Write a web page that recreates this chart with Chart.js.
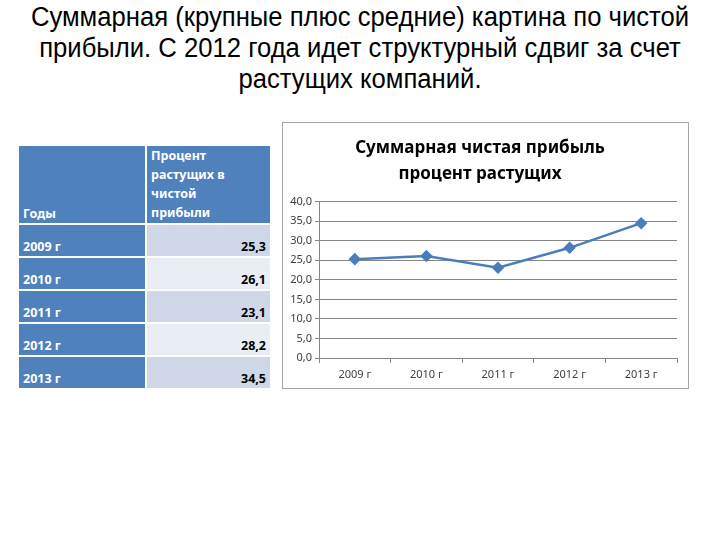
<!DOCTYPE html>
<html>
<head>
<meta charset="utf-8">
<script src="https://cdn.jsdelivr.net/npm/chart.js@4"></script>
<style>
  body { margin: 0; width: 720px; height: 540px; background: #fff; position: relative; overflow: hidden; }
  h1 {
    position: absolute; left: 0; top: 2px; width: 720px; margin: 0;
    font-family: "Liberation Sans", sans-serif; transform: scaleX(0.95); transform-origin: 360px 0;
    font-weight: normal; font-size: 27px; line-height: 31px; text-align: center; color: #000;
  }
  table {
    position: absolute; left: 17px; top: 144px; border-collapse: collapse;
    font-family: "Noto Sans", sans-serif; font-weight: bold; font-size: 12.5px;
  }
  td { border: 2px solid #fff; vertical-align: bottom; padding: 0 4px 1px 4px; }
  td.h { background: #4f81bd; color: #fff; }
  td.v { text-align: right; color: #000; }
  tr.odd td.v { background: #d0d8e8; }
  tr.even td.v { background: #e9edf4; }
  #box { position: absolute; left: 282px; top: 122px; width: 405px; height: 265px; border: 1px solid #a6a6a6; }
</style>
</head>
<body>
<h1>Суммарная (крупные плюс средние) картина по чистой<br>прибыли. С 2012 года идет структурный сдвиг за счет<br>растущих компаний.</h1>
<table id="tbl"></table>
<div id="box"><canvas id="chart" width="405" height="265"></canvas></div>
<script>
const years = ['2009 г', '2010 г', '2011 г', '2012 г', '2013 г'];
const growthShare = [25.3, 26.1, 23.1, 28.2, 34.5];
const headYear = 'Годы';
const headValue = ['Процент', 'растущих в', 'чистой', 'прибыли'];
const chartTitle = ['Суммарная чистая прибыль', 'процент растущих'];

// table
const tbl = document.getElementById('tbl');
let html = '<tr style="height:74px"><td class="h" style="width:118px">' + headYear +
  '</td><td class="h" style="width:115px;line-height:19px">' + headValue.join('<br>') + '</td></tr>';
years.forEach((y, i) => {
  const v = growthShare[i].toFixed(1).replace('.', ',');
  html += '<tr class="' + (i % 2 ? 'even' : 'odd') + '" style="height:33px"><td class="h">' + y +
    '</td><td class="v">' + v + '</td></tr>';
});
tbl.innerHTML = html;

const ctx = document.getElementById('chart').getContext('2d');
const gray = '#868686';
const chart = new Chart(ctx, {
  type: 'line',
  data: {
    labels: years,
    datasets: [{
      data: growthShare,
      borderColor: '#4a7ebb',
      backgroundColor: '#4a7ebb',
      borderWidth: 2.5,
      pointStyle: 'rectRot',
      pointRadius: 4.5,
      tension: 0
    }]
  },
  options: {
    responsive: false,
    animation: false,
    layout: { padding: { left: 0, right: 11, bottom: 0, top: 0 } },
    plugins: {
      legend: { display: false },
      tooltip: { enabled: false },
      title: {
        display: true,
        text: chartTitle,
        color: '#000',
        font: { family: 'Noto Sans', size: 17, weight: 'bold', lineHeight: 1.55 },
        padding: { top: 12, bottom: 14 }
      }
    },
    scales: {
      x: {
        offset: true,
        grid: { offset: true, drawOnChartArea: false, drawTicks: true, tickLength: 5, color: gray },
        border: { color: gray },
        ticks: { color: '#404040', font: { family: 'Noto Sans', size: 11 }, padding: 5 },
        afterFit: s => { s.height = 30; }
      },
      y: {
        min: 0,
        max: 40,
        ticks: {
          stepSize: 5,
          color: '#404040',
          font: { family: 'Noto Sans', size: 11 },
          padding: 3,
          callback: v => v.toFixed(1).replace('.', ',')
        },
        grid: { color: gray, tickLength: 4 },
        border: { color: gray },
        afterFit: s => { s.width = 36; }
      }
    }
  }
});
</script>
</body>
</html>
